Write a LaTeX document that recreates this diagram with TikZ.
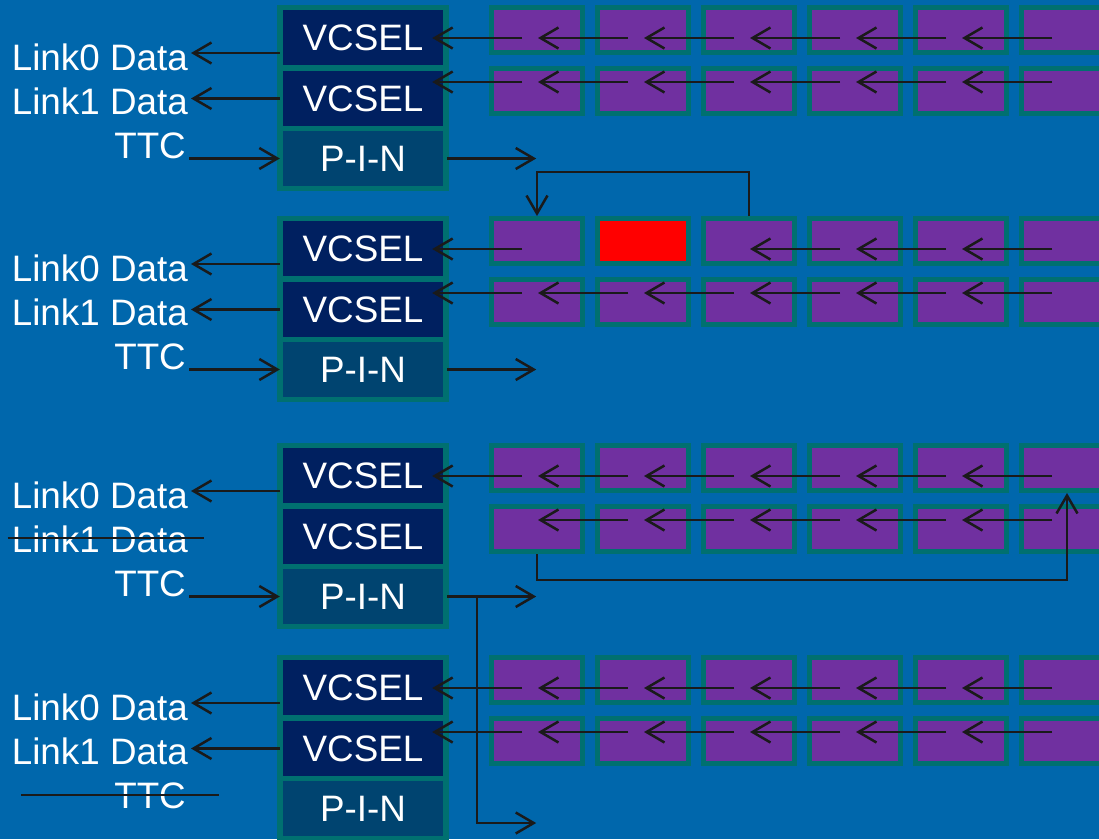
\documentclass[tikz,border=0pt]{standalone}
\usepackage{fontspec}
\setmainfont{Liberation Sans}
\usetikzlibrary{arrows.meta,calc}
\definecolor{bg}{RGB}{0,103,172}
\definecolor{tealb}{RGB}{0,112,112}
\definecolor{vcselc}{RGB}{0,32,96}
\definecolor{pinc}{RGB}{0,68,112}
\definecolor{purp}{RGB}{112,48,160}
\definecolor{ink}{RGB}{26,26,26}
\tikzset{
  lbl/.style={text=white, font=\fontsize{36.8}{44}\selectfont, inner sep=0pt},
  inbox/.style={minimum width=160pt, minimum height=55pt, inner sep=0pt, text=white, font=\fontsize{36.8}{44}\selectfont},
  vbox/.style={inbox, fill=vcselc},
  pbox/.style={inbox, fill=pinc},
  cell/.style={draw=tealb, line width=5pt, minimum width=91pt, minimum height=45pt, inner sep=0pt},
  arr/.style={draw=ink, line width=2.5pt, -{Straight Barb[length=18pt,width=21pt]}},
  ln/.style={draw=ink, line width=2.5pt},
}
\newcommand\rowarrows[4]{%
  \foreach \k [evaluate=\k as \kk using int(\k+1)] in {#4} {
    \draw[arr] ($(g#1r#2c\kk.center)+(-15,#3)$) -- ($(g#1r#2c\k.center)+(1,#3)$);
  }}
\newcommand\vcselarrow[3]{%
  \coordinate (tl) at ($(g#1r#2c1.center)+(-15,#3)$);
  \coordinate (hd) at (tl -| g#1v#2.east);
  \draw[arr] (tl) -- ([xshift=-11pt]hd);
}
\begin{document}
\begin{tikzpicture}[x=1pt,y=-1pt]
\useasboundingbox (0,0) rectangle (1099,839);
\fill[bg] (0,0) rectangle (1099,839);
\clip (0,0) rectangle (1099,839);
\foreach \g/\T in {1/5,2/216,3/443,4/655} {
  \fill[tealb] (277,\T) rectangle (449,\T+186);
  \node[vbox] (g\g v1) at (363,\T+32.5) {VCSEL};
  \node[vbox] (g\g v2) at (363,\T+93.5) {VCSEL};
  \node[pbox] (g\g p) at (363,\T+153.5) {P-I-N};
  \foreach \k in {1,...,6} {
    \def\cf{purp}\ifnum\g\k=22 \def\cf{red}\fi
    \node[cell, fill=\cf] (g\g r1c\k) at ({537+106*(\k-1)},\T+25) {};
    \node[cell, fill=purp] (g\g r2c\k) at ({537+106*(\k-1)},\T+86) {};
  }
  \node[lbl, anchor=base east] (g\g l0) at (188,\T+65) {Link0 Data};
  \node[lbl, anchor=base east] (g\g l1) at (188,\T+109) {Link1 Data};
  \node[lbl, anchor=base east] (g\g t) at (186,\T+153.5) {TTC};
}
% row arrows
\rowarrows{1}{1}{8}{1,...,5}   \vcselarrow{1}{1}{8}
\rowarrows{1}{2}{-9}{1,...,5}  \vcselarrow{1}{2}{-9}
\rowarrows{2}{1}{8}{3,4,5}     \vcselarrow{2}{1}{8}
\rowarrows{2}{2}{-9}{1,...,5}  \vcselarrow{2}{2}{-9}
\rowarrows{3}{1}{8}{1,...,5}   \vcselarrow{3}{1}{8}
\rowarrows{3}{2}{-9}{1,...,5}
\rowarrows{4}{1}{8}{1,...,5}   \vcselarrow{4}{1}{8}
\rowarrows{4}{2}{-9}{1,...,5}  \vcselarrow{4}{2}{-9}
% link data outputs
\foreach \g in {1,2,3,4} {
  \coordinate (a0) at ($(g\g v1.west)+(-3,15.5)$);
  \coordinate (b0) at (a0 -| g\g l0.east);
  \draw[arr] (a0) -- ([xshift=3pt]b0);
}
\foreach \g in {1,2,4} {
  \coordinate (a1) at ($(g\g v2.west)+(-3,0)$);
  \coordinate (b1) at (a1 -| g\g l1.east);
  \draw[arr] (a1) -- ([xshift=3pt]b1);
}
% TTC inputs and PIN outputs
\foreach \g in {1,2,3} {
  \draw[arr] ([xshift=3pt]g\g t.base east) -- ([xshift=-3pt]g\g p.west);
  \draw[arr] ([xshift=4pt]g\g p.east) -- ++(89,0);
}
\coordinate (br) at ($(g3p.east)+(34,0)$);
\draw[arr] (br) |- ($(g4p.east)+(93,14.5)$);
% loopbacks
\draw[arr] (g2r1c3.north) -- ++(0,-44) -| (g2r1c1.north);
\draw[arr] (g3r2c1.south) -- ++(0,26) -| (g3r1c6.south);
% strike-throughs
\draw[ln] ($(g3l1.base west)+(-4,-14)$) -- ($(g3l1.base east)+(16,-14)$);
\draw[ln] ($(g4t.base west)+(-93,-13.5)$) -- ($(g4t.base east)+(33,-13.5)$);
\end{tikzpicture}
\end{document}
